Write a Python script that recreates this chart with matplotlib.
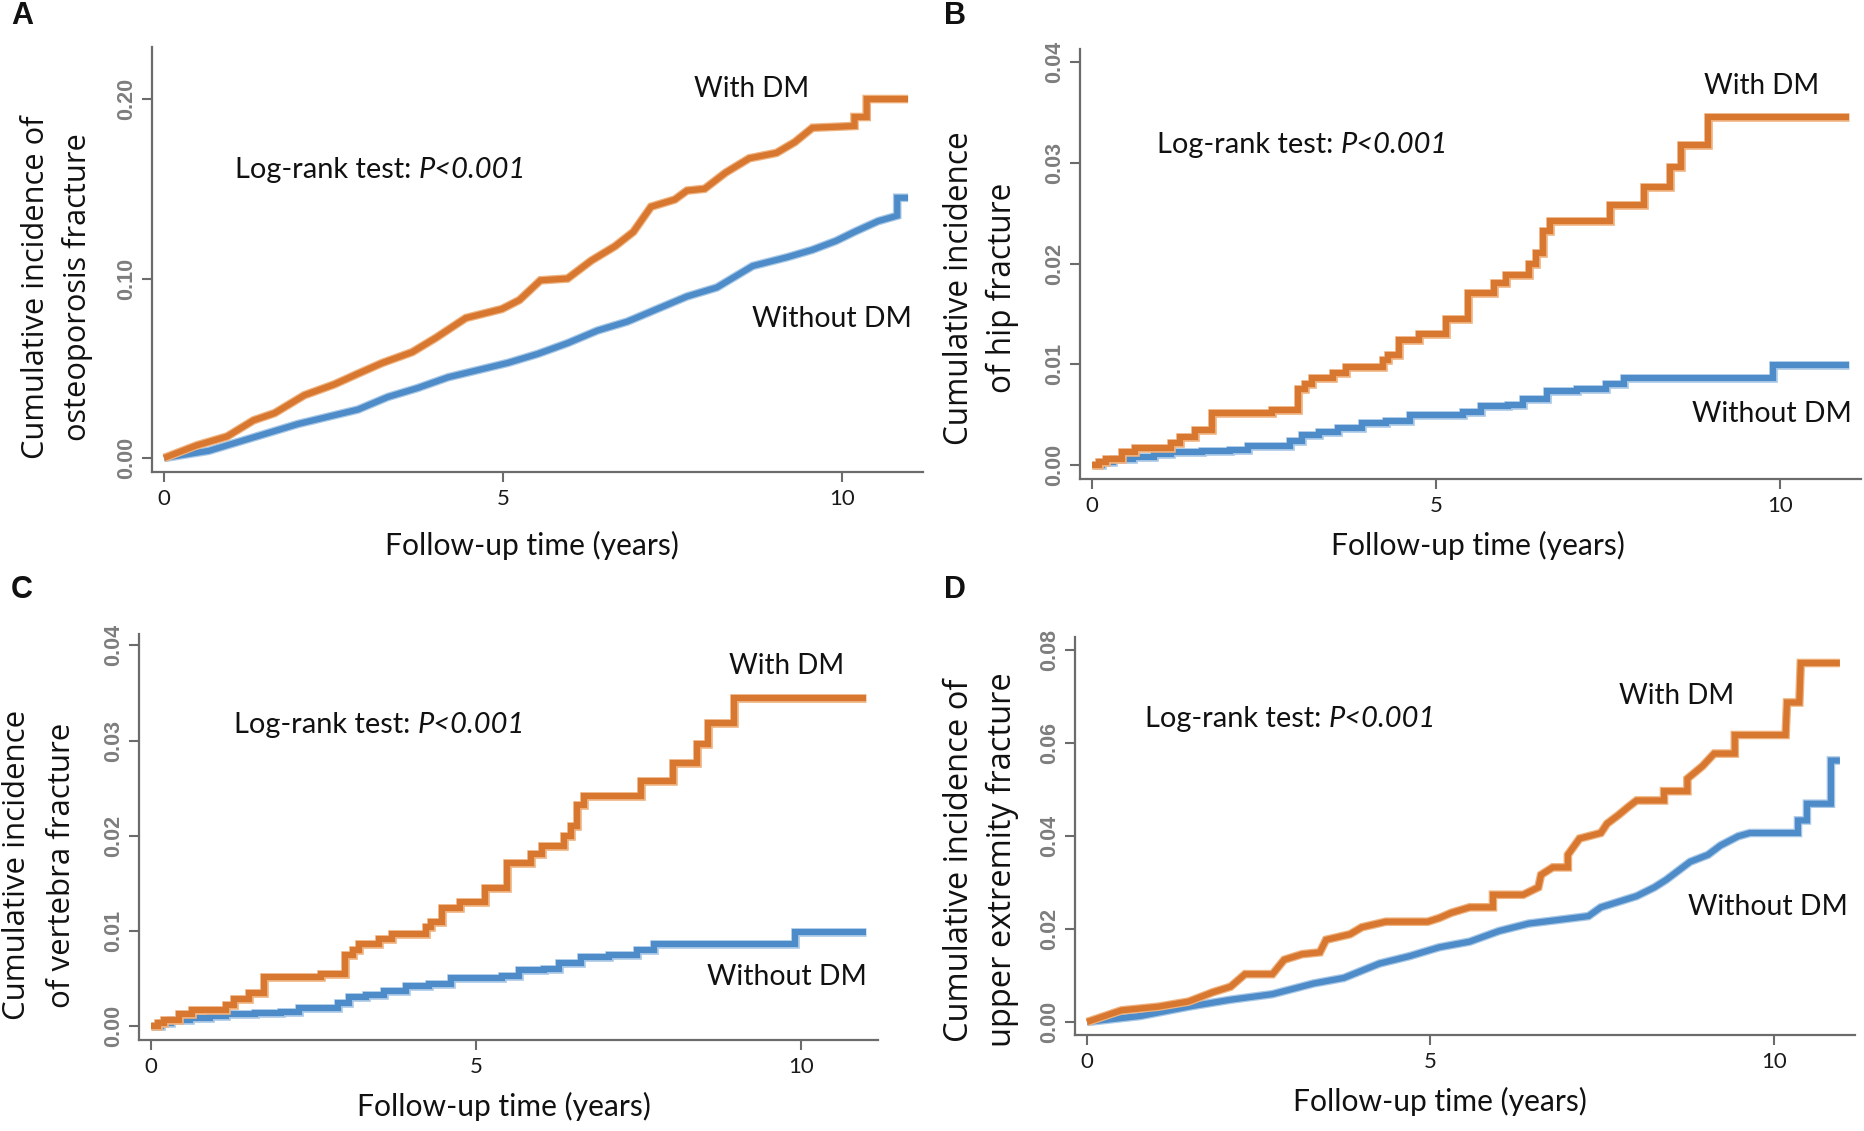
import matplotlib
matplotlib.use("Agg")
import matplotlib.pyplot as plt
import matplotlib.patheffects as pe

# ---------------- data ----------------
# Panel A: osteoporosis fracture (linear segments, repeated times = vertical steps)
a_with_t = [0, 0.48, 0.93, 1.32, 1.63, 2.07, 2.51, 2.86, 3.22, 3.66, 4.01, 4.45, 4.98, 5.24,
            5.55, 5.95, 6.3, 6.65, 6.92, 7.18, 7.53, 7.71, 7.97, 8.28, 8.63, 9.03, 9.3, 9.56,
            10.18, 10.18, 10.36, 10.36, 10.97]
a_with_y = [0, 0.007, 0.012, 0.021, 0.025, 0.035, 0.041, 0.047, 0.053, 0.059, 0.067, 0.078, 0.083, 0.088,
            0.099, 0.100, 0.110, 0.118, 0.126, 0.140, 0.144, 0.149, 0.150, 0.159, 0.167, 0.170, 0.176, 0.184,
            0.185, 0.190, 0.190, 0.200, 0.200]
a_without_t = [0, 0.66, 1.1, 1.54, 1.98, 2.42, 2.86, 3.3, 3.74, 4.19, 4.63, 5.07, 5.51, 5.95, 6.39,
               6.83, 7.27, 7.71, 8.15, 8.68, 9.2, 9.56, 9.91, 10.18, 10.53, 10.81, 10.81, 10.97]
a_without_y = [0, 0.004, 0.009, 0.014, 0.019, 0.023, 0.027, 0.034, 0.039, 0.045, 0.049, 0.053, 0.058, 0.064,
               0.071, 0.076, 0.083, 0.090, 0.095, 0.107, 0.112, 0.116, 0.121, 0.126, 0.132, 0.135, 0.145, 0.145]

# Panel B: hip fracture (step functions)
b_with_t = [0, 0.1, 0.2, 0.43, 0.63, 1.15, 1.28, 1.5, 1.74, 2.62, 2.99, 3.1, 3.2, 3.5, 3.7, 4.23, 4.3,
            4.47, 4.75, 5.14, 5.47, 5.85, 6.02, 6.35, 6.46, 6.55, 6.66, 7.53, 8.03, 8.4, 8.57, 8.96, 11.0]
b_with_y = [0, 0.0003, 0.0006, 0.0013, 0.0017, 0.0022, 0.0028, 0.0035, 0.0052, 0.0055, 0.0075, 0.0080,
            0.0086, 0.0091, 0.0097, 0.0104, 0.0109, 0.0124, 0.0130, 0.0145, 0.0171, 0.0181, 0.0189, 0.0200,
            0.0210, 0.0232, 0.0242, 0.0258, 0.0276, 0.0296, 0.0318, 0.0345, 0.0345]
b_without_t = [0, 0.15, 0.3, 0.6, 0.9, 1.15, 1.6, 2.0, 2.27, 2.88, 3.05, 3.3, 3.58, 3.92, 4.27, 4.62,
               5.4, 5.66, 6.05, 6.27, 6.61, 7.05, 7.48, 7.74, 9.9, 11.0]
b_without_y = [0, 0.0003, 0.0006, 0.0008, 0.0011, 0.0013, 0.0014, 0.0015, 0.0019, 0.0024, 0.0030, 0.0033,
               0.0037, 0.0042, 0.0044, 0.0050, 0.0053, 0.0059, 0.0060, 0.0066, 0.0073, 0.0075, 0.0080,
               0.0086, 0.0099, 0.0099]

# Panel C: vertebra fracture (step functions)
c_with_t = [0, 0.1, 0.2, 0.43, 0.63, 1.15, 1.28, 1.5, 1.74, 2.62, 2.99, 3.1, 3.2, 3.5, 3.7, 4.23, 4.3,
            4.47, 4.75, 5.14, 5.47, 5.85, 6.02, 6.35, 6.46, 6.55, 6.66, 7.53, 8.03, 8.4, 8.57, 8.96, 11.0]
c_with_y = [0, 0.0003, 0.0006, 0.0013, 0.0017, 0.0022, 0.0028, 0.0035, 0.0052, 0.0055, 0.0075, 0.0080,
            0.0086, 0.0091, 0.0097, 0.0104, 0.0109, 0.0124, 0.0130, 0.0145, 0.0171, 0.0181, 0.0189, 0.0200,
            0.0210, 0.0232, 0.0242, 0.0258, 0.0276, 0.0296, 0.0318, 0.0345, 0.0345]
c_without_t = [0, 0.15, 0.3, 0.6, 0.9, 1.15, 1.6, 2.0, 2.27, 2.88, 3.05, 3.3, 3.58, 3.92, 4.27, 4.62,
               5.4, 5.66, 6.05, 6.27, 6.61, 7.05, 7.48, 7.74, 9.9, 11.0]
c_without_y = [0, 0.0003, 0.0006, 0.0008, 0.0011, 0.0013, 0.0014, 0.0015, 0.0019, 0.0024, 0.0030, 0.0033,
               0.0037, 0.0042, 0.0044, 0.0050, 0.0053, 0.0059, 0.0060, 0.0066, 0.0073, 0.0075, 0.0080,
               0.0086, 0.0099, 0.0099]

# Panel D: upper extremity fracture (linear segments, repeated times = vertical steps)
d_with_t = [0, 0.5, 1.04, 1.48, 1.83, 2.09, 2.3, 2.7, 2.87, 3.13, 3.39, 3.48, 3.83, 4.0, 4.35, 4.96,
            5.13, 5.3, 5.57, 5.91, 5.91, 6.35, 6.57, 6.61, 6.78, 7.0, 7.0, 7.17, 7.48, 7.57, 7.74, 7.87,
            8.0, 8.4, 8.4, 8.74, 8.74, 8.96, 9.13, 9.43, 9.43, 10.17, 10.19, 10.37, 10.39, 10.96]
d_with_y = [0, 0.0025, 0.0033, 0.0044, 0.0064, 0.0076, 0.0103, 0.0103, 0.0134, 0.0146, 0.0150, 0.0177,
            0.0189, 0.0204, 0.0216, 0.0216, 0.0224, 0.0235, 0.0247, 0.0247, 0.0274, 0.0274, 0.0290,
            0.0317, 0.0333, 0.0333, 0.0360, 0.0395, 0.0407, 0.0427, 0.0446, 0.0462, 0.0477, 0.0477,
            0.0497, 0.0497, 0.0524, 0.0551, 0.0578, 0.0578, 0.0618, 0.0618, 0.0688, 0.0688, 0.0773, 0.0773]
d_without_t = [0, 0.78, 1.48, 2.09, 2.7, 3.3, 3.74, 4.26, 4.7, 5.13, 5.57, 6.0, 6.43, 6.87, 7.3, 7.48,
               8.0, 8.26, 8.43, 8.78, 9.04, 9.22, 9.48, 9.65, 10.35, 10.35, 10.48, 10.48, 10.83, 10.83, 10.96]
d_without_y = [0, 0.0013, 0.0033, 0.0048, 0.0060, 0.0083, 0.0095, 0.0126, 0.0142, 0.0161, 0.0173, 0.0196,
               0.0212, 0.0220, 0.0228, 0.0247, 0.0271, 0.0290, 0.0306, 0.0345, 0.0360, 0.0380, 0.0400,
               0.0407, 0.0407, 0.0434, 0.0434, 0.0470, 0.0470, 0.0563, 0.0563]

x_ticks = [0, 5, 10]
x_tick_labels = ["0", "5", "10"]
y_ticks_a = [0.00, 0.10, 0.20]
y_ticks_bc = [0.00, 0.01, 0.02, 0.03, 0.04]
y_ticks_d = [0.00, 0.02, 0.04, 0.06, 0.08]

panel_letters = ["A", "B", "C", "D"]
ylabels = [("Cumulative incidence of", "osteoporosis fracture"),
           ("Cumulative incidence", "of hip fracture"),
           ("Cumulative incidence", "of vertebra fracture"),
           ("Cumulative incidence of", "upper extremity fracture")]
xlabel = "Follow-up time (years)"
label_with = "With DM"
label_without = "Without DM"
logrank_plain = "Log-rank test: "
logrank_italic = "P<0.001"

# ---------------- style ----------------
W, H = 1864, 1131
ORANGE = "#D8772F"
BLUE = "#4D8CC8"
AXC = "#6b6b6b"
TXT_FONT = ["Lato", "DejaVu Sans"]
YLAB_FONT = ["Open Sans", "DejaVu Sans"]

fig = plt.figure(figsize=(W / 100, H / 100), dpi=100)
fig.patch.set_facecolor("white")
renderer = fig.canvas.get_renderer()


def px_axes(left, top, right, bottom):
    return fig.add_axes([left / W, 1 - bottom / H, (right - left) / W, (bottom - top) / H])


def extent(t, vertical=False):
    bb = t.get_window_extent(renderer)
    return bb.height if vertical else bb.width


def ftext(x, y, s, target=None, vertical=False, **kw):
    t = fig.text(x / W, 1 - y / H, s, **kw)
    if target is not None:
        t.set_fontsize(t.get_fontsize() * target / extent(t, vertical))
    return t


panels = [
    dict(box=(152, 47, 923, 472), xlim=(-0.177, 11.19), ylim=(-0.0078, 0.229), yt=y_ticks_a,
         series=(a_without_t, a_without_y, a_with_t, a_with_y), steps=False),
    dict(box=(1080, 49, 1861, 479), xlim=(-0.174, 11.18), ylim=(-0.00139, 0.0413), yt=y_ticks_bc,
         series=(b_without_t, b_without_y, b_with_t, b_with_y), steps=True),
    dict(box=(139, 634, 878, 1040), xlim=(-0.185, 11.18), ylim=(-0.00147, 0.0412), yt=y_ticks_bc,
         series=(c_without_t, c_without_y, c_with_t, c_with_y), steps=True),
    dict(box=(1075, 637, 1855, 1035), xlim=(-0.175, 11.18), ylim=(-0.0028, 0.0829), yt=y_ticks_d,
         series=(d_without_t, d_without_y, d_with_t, d_with_y), steps=False),
]

for p in panels:
    ax = px_axes(*p["box"])
    ax.set_xlim(*p["xlim"])
    ax.set_ylim(*p["ylim"])
    for s in ("top", "right"):
        ax.spines[s].set_visible(False)
    for s in ("left", "bottom"):
        ax.spines[s].set_color(AXC)
        ax.spines[s].set_linewidth(1.6)
    ax.set_xticks(x_ticks)
    ax.set_xticklabels(x_tick_labels, fontfamily=TXT_FONT, fontsize=16, color="#1a1a1a")
    ax.set_yticks(p["yt"])
    ax.set_yticklabels(["{:.2f}".format(v) for v in p["yt"]], rotation=90, va="center",
                       fontfamily="Liberation Sans", fontweight="bold", fontsize=15.5, color="#7d7d7d")
    ax.tick_params(axis="both", colors=AXC, length=7, width=1.5, direction="out")
    ax.tick_params(axis="x", labelcolor="#1a1a1a", pad=5)
    ax.tick_params(axis="y", labelcolor="#7d7d7d", pad=4)
    tw, yw, tc, yc = p["series"]
    ds = "steps-post" if p["steps"] else "default"
    halo_b = [pe.Stroke(linewidth=6.2, foreground="#a9c8e6"), pe.Normal()]
    halo_o = [pe.Stroke(linewidth=6.2, foreground="#efb27f"), pe.Normal()]
    ax.plot(tw, yw, color=BLUE, lw=4.4, drawstyle=ds, solid_joinstyle="miter",
            solid_capstyle="butt", path_effects=halo_b, zorder=3)
    ax.plot(tc, yc, color=ORANGE, lw=4.4, drawstyle=ds, solid_joinstyle="miter",
            solid_capstyle="butt", path_effects=halo_o, zorder=4)

# panel letters
letter_pos = [(22, 16), (955, 16), (22, 590), (955, 590)]
for (x, y), L in zip(letter_pos, panel_letters):
    ftext(x, y, L, ha="center", va="center", fontsize=22, fontweight="bold",
          fontfamily="Liberation Sans", color="#111111")

# y-axis labels: (x line1, x line2, y centre, length of line 1)
ylab_pos = [(36, 78, 287, 342), (960, 1002, 288, 313),
            (17, 62, 865, 310), (960, 1002, 860, 363)]
for (x1, x2, yc, l1), (s1, s2) in zip(ylab_pos, ylabels):
    t1 = ftext(x1, yc, s1, target=l1, vertical=True, rotation=90, ha="center", va="center",
               fontsize=20, fontfamily=YLAB_FONT, color="#111111")
    ftext(x2, yc, s2, rotation=90, ha="center", va="center",
          fontsize=t1.get_fontsize(), fontfamily=YLAB_FONT, color="#111111")

# x-axis labels
xlab_pos = [(532, 545), (1478, 545), (504, 1106), (1440, 1101)]
for x, y in xlab_pos:
    ftext(x, y, xlabel, target=294, ha="center", va="center", fontsize=20,
          fontfamily=TXT_FONT, color="#111111")

# log-rank annotations: plain part + italic part, total width fitted
lr_pos = [(235, 170), (1157, 145), (234, 725), (1145, 719)]
for x, y in lr_pos:
    t1 = ftext(x, y, logrank_plain, ha="left", va="center", fontsize=20,
               fontfamily=TXT_FONT, color="#111111")
    t2 = ftext(x, y, logrank_italic, ha="left", va="center", fontsize=20, fontstyle="italic",
               fontfamily=TXT_FONT, color="#111111")
    w1, w2 = extent(t1), extent(t2)
    scale = 292 / (w1 + w2)
    t1.set_fontsize(20 * scale)
    t2.set_fontsize(20 * scale)
    w1 = extent(t1)
    t2.set_x((x + w1) / W)

# group labels
with_pos = [(752, 89), (1762, 86), (787, 666), (1677, 696)]
without_pos = [(832, 319), (1772, 414), (787, 977), (1768, 907)]
for x, y in with_pos:
    ftext(x, y, label_with, target=115, ha="center", va="center", fontsize=20,
          fontfamily=TXT_FONT, color="#111111")
for x, y in without_pos:
    ftext(x, y, label_without, target=160, ha="center", va="center", fontsize=20,
          fontfamily=TXT_FONT, color="#111111")

fig.savefig("out.png", dpi=100, facecolor="white")
